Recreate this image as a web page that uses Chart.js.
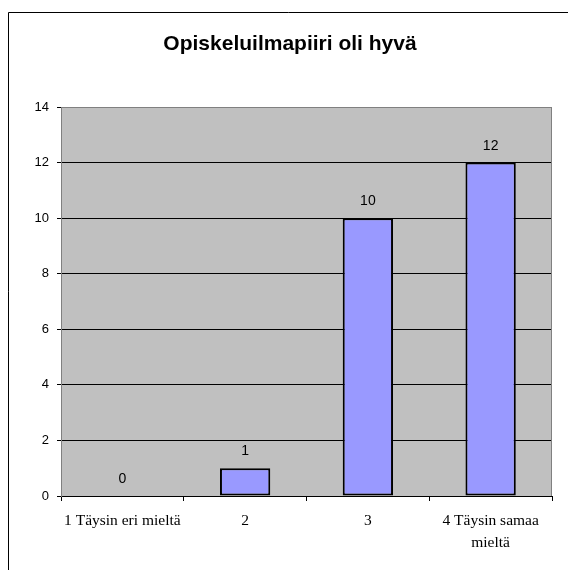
<!DOCTYPE html>
<html>
<head>
<meta charset="utf-8">
<script src="https://cdn.jsdelivr.net/npm/chart.js@4/dist/chart.umd.min.js"></script>
<style>
  html, body { margin: 0; padding: 0; background: #fff; }
  #wrap { position: relative; width: 568px; height: 570px; }
  canvas { display: block; }
</style>
</head>
<body>
<div id="wrap"><canvas id="c" width="568" height="570"></canvas></div>
<script>
const titleText = 'Opiskeluilmapiiri oli hyvä';
const categories = [['1 Täysin eri mieltä'], ['2'], ['3'], ['4 Täysin samaa', 'mieltä']];
const counts = [0, 1, 10, 12];
const yTicks = [0, 2, 4, 6, 8, 10, 12, 14];

// Frame, plot background and title
const decor = {
  id: 'decor',
  beforeDraw(chart) {
    const { ctx, chartArea: a } = chart;
    ctx.save();
    ctx.fillStyle = '#ffffff';
    ctx.fillRect(0, 0, chart.width, chart.height);
    ctx.strokeStyle = '#000000';
    ctx.lineWidth = 1;
    ctx.beginPath();
    ctx.moveTo(8.5, chart.height + 2);
    ctx.lineTo(8.5, 12.5);
    ctx.lineTo(chart.width + 2, 12.5);
    ctx.stroke();
    ctx.fillStyle = '#c0c0c0';
    ctx.fillRect(a.left, a.top, a.right - a.left, a.bottom - a.top);
    ctx.fillStyle = '#000000';
    ctx.font = 'bold 21px "Liberation Sans", Arial, sans-serif';
    ctx.textAlign = 'center';
    ctx.textBaseline = 'alphabetic';
    ctx.fillText(titleText, 290, 50);
    ctx.restore();
  },
  afterDatasetsDraw(chart) {
    const { ctx, chartArea: a } = chart;
    ctx.save();
    // plot border (top and right)
    ctx.strokeStyle = '#808080';
    ctx.lineWidth = 1;
    ctx.beginPath();
    ctx.moveTo(a.left, a.top + 0.5);
    ctx.lineTo(a.right - 0.5, a.top + 0.5);
    ctx.lineTo(a.right - 0.5, a.bottom);
    ctx.stroke();
    // value labels
    const meta = chart.getDatasetMeta(0);
    ctx.fillStyle = '#000000';
    ctx.font = '14px "Liberation Sans", Arial, sans-serif';
    ctx.textAlign = 'center';
    ctx.textBaseline = 'alphabetic';
    meta.data.forEach((bar, i) => {
      ctx.fillText(String(counts[i]), bar.x, bar.y - 13);
    });
    ctx.restore();
  }
};

new Chart(document.getElementById('c'), {
  type: 'bar',
  data: {
    labels: categories,
    datasets: [{
      data: counts,
      backgroundColor: '#9999ff',
      borderColor: '#000000',
      borderWidth: 2,
      borderSkipped: false,
      categoryPercentage: 1,
      barPercentage: 0.41
    }]
  },
  options: {
    responsive: false,
    animation: false,
    devicePixelRatio: 1,
    layout: { padding: { left: 0, right: 16, top: 107, bottom: 0 } },
    plugins: { legend: { display: false }, title: { display: false }, tooltip: { enabled: false } },
    scales: {
      x: {
        offset: true,
        grid: {
          offset: true,
          drawOnChartArea: false,
          drawTicks: true,
          tickLength: 5,
          color: '#000000'
        },
        border: { color: '#000000', width: 1 },
        ticks: {
          color: '#000000',
          padding: 9,
          maxRotation: 0,
          autoSkip: false,
          font: { family: '"Liberation Serif", "Times New Roman", serif', size: 15.5, lineHeight: 1.4 }
        },
        afterFit(scale) { scale.height = 74; }
      },
      y: {
        min: 0,
        max: 14,
        afterBuildTicks(scale) { scale.ticks = yTicks.map(v => ({ value: v })); },
        grid: {
          color: ctx => (ctx.tick && ctx.tick.value === 14 ? '#808080' : '#000000'),
          tickColor: '#000000',
          tickLength: 4,
          lineWidth: 1
        },
        border: { color: '#808080', width: 1 },
        ticks: {
          color: '#000000',
          padding: 8,
          font: { family: '"Liberation Sans", Arial, sans-serif', size: 13 }
        },
        afterFit(scale) { scale.width = 61; }
      }
    }
  },
  plugins: [decor]
});
</script>
</body>
</html>
